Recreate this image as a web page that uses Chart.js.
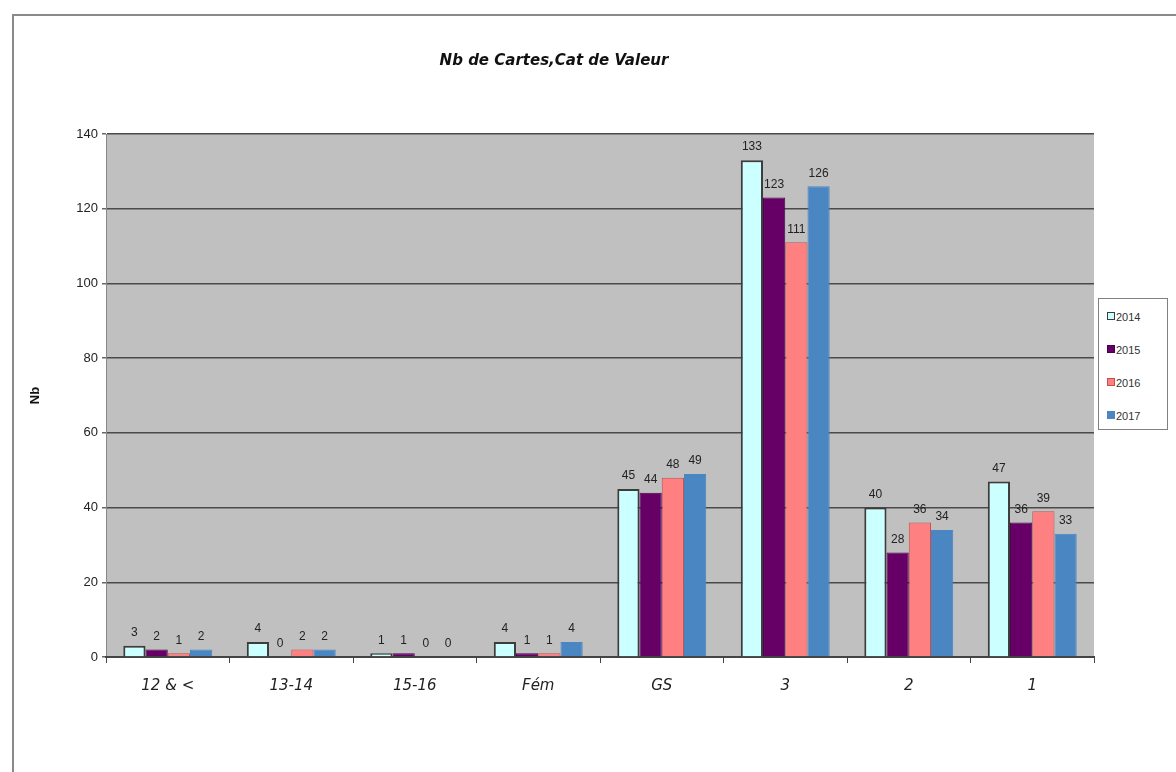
<!DOCTYPE html>
<html>
<head>
<meta charset="utf-8">
<script src="https://cdn.jsdelivr.net/npm/chart.js@4.4.0/dist/chart.umd.min.js"></script>
<style>
  html, body { margin: 0; padding: 0; background: #fff; }
  #wrap { position: relative; width: 1176px; height: 772px; overflow: hidden; }
  #frame { position: absolute; left: 12px; top: 14px; width: 1200px; height: 800px;
           border-left: 2px solid #8a8a8a; border-top: 2px solid #8a8a8a; }
  #legend { position: absolute; left: 1098px; top: 298px; width: 68px; height: 130px;
            border: 1px solid #808080; background: #fff; font: 11px "Liberation Sans Narrow", "Liberation Sans", Arial, sans-serif; color: #333; }
  #legend div { position: absolute; left: 8px; }
  #legend span { display: inline-block; width: 6px; height: 6px; margin-right: 1px; vertical-align: 1px; }
  canvas { position: absolute; left: 0; top: 0; }
</style>
</head>
<body>
<div id="wrap">
  <div id="frame"></div>
  <canvas id="chart" width="1176" height="772"></canvas>
  <div id="legend"></div>
</div>
<script>
document.addEventListener('DOMContentLoaded', function () {
    // Data
    const categories = ['12 & <', '13-14', '15-16', 'Fém', 'GS', '3', '2', '1'];
    const years = ['2014', '2015', '2016', '2017'];
    const values2014 = [3, 4, 1, 4, 45, 133, 40, 47];
    const values2015 = [2, 0, 1, 1, 44, 123, 28, 36];
    const values2016 = [1, 2, 0, 1, 48, 111, 36, 39];
    const values2017 = [2, 2, 0, 4, 49, 126, 34, 33];

    const fills = ['#ccffff', '#660066', '#ff8080', '#4a86c2'];
    const borders = ['#3c3c3c', '#4a004a', '#c05050', '#4a86c2'];
    const series = [values2014, values2015, values2016, values2017];

    const datasets = years.map((y, i) => ({
        label: y,
        data: series[i],
        backgroundColor: fills[i],
        borderColor: borders[i],
        borderWidth: i === 0 ? 2 : 1,
        categoryPercentage: 0.72,
        barPercentage: 1.0
    }));

    // gray plot background
    const plotBg = {
        id: 'plotBg',
        beforeDraw(chart) {
            const a = chart.chartArea, c = chart.ctx;
            c.save();
            c.fillStyle = '#c0c0c0';
            c.fillRect(a.left, a.top, a.right - a.left, a.bottom - a.top);
            c.restore();
        }
    };

    // value labels above bars
    const valueLabels = {
        id: 'valueLabels',
        afterDatasetsDraw(chart) {
            const c = chart.ctx;
            c.save();
            c.font = '12px "Liberation Sans", Arial, sans-serif';
            c.fillStyle = '#222';
            c.textAlign = 'center';
            c.textBaseline = 'bottom';
            chart.data.datasets.forEach((ds, i) => {
                chart.getDatasetMeta(i).data.forEach((bar, j) => {
                    c.fillText(ds.data[j], bar.x, bar.y - 7);
                });
            });
            c.restore();
        }
    };

    const ctx = document.getElementById('chart').getContext('2d');
    new Chart(ctx, {
        type: 'bar',
        data: { labels: categories, datasets: datasets },
        options: {
            responsive: false,
            animation: false,
            layout: { padding: { left: 14, right: 82, bottom: 0, top: 0 } },
            scales: {
                y: {
                    min: 0,
                    max: 140,
                    ticks: { stepSize: 20, color: '#222', font: { size: 13, family: '"Liberation Sans", Arial' }, padding: 4 },
                    grid: { color: '#4a4a4a', lineWidth: 1.5, tickLength: 4, tickColor: '#666' },
                    border: { display: true, color: '#888', width: 1 },
                    title: { display: true, text: 'Nb', color: '#111', padding: { top: 14, bottom: 4 },
                             font: { size: 13, weight: 'bold', family: '"Liberation Sans", Arial' } },
                    afterFit(s) { s.width = 92; }
                },
                x: {
                    ticks: { color: '#222', font: { size: 15, style: 'italic', family: '"DejaVu Sans", sans-serif' }, padding: 14 },
                    grid: { drawOnChartArea: false, drawTicks: true, tickLength: 6, color: '#444', offset: true },
                    border: { display: true, color: '#444', width: 2 },
                    afterFit(s) { s.height = 115; }
                }
            },
            plugins: {
                legend: { display: false },
                tooltip: { enabled: false },
                title: {
                    display: true,
                    text: 'Nb de Cartes,Cat de Valeur',
                    color: '#111',
                    font: { size: 15, style: 'italic', weight: 'bold', family: '"DejaVu Sans", sans-serif' },
                    padding: { top: 52, bottom: 64 }
                }
            }
        },
        plugins: [plotBg, valueLabels]
    });

    // Legend
    const legend = document.getElementById('legend');
    years.forEach((y, i) => {
        const item = document.createElement('div');
        item.style.top = (12 + i * 33) + 'px';
        item.innerHTML = '<span style="background:' + fills[i] + ';border:1px solid ' + borders[i] + '"></span>' + y;
        legend.appendChild(item);
    });
});
</script>
</body>
</html>
